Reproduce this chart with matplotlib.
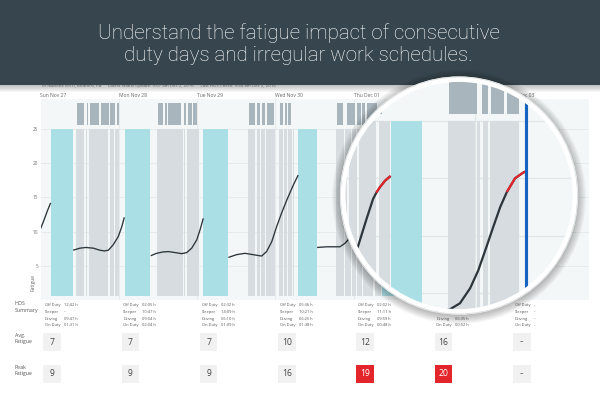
import numpy as np
import matplotlib
matplotlib.use("Agg")
import matplotlib.pyplot as plt
from matplotlib.patches import Rectangle, Circle
from matplotlib.transforms import blended_transform_factory

plt.rcParams["font.family"] = ["Open Sans", "DejaVu Sans"]

"Texts"
title = "Understand the fatigue impact of consecutive\nduty days and irregular work schedules."
status_line = ("Tri Nazione (EST), Bedford, PA      Latest Status Update: 9:07 am Dec 2, 2016"
               "      Last HOS Check: 9:44 am Dec 2, 2016")
days = ["Sun Nov 27", "Mon Nov 28", "Tue Nov 29", "Wed Nov 30",
        "Thu Dec 01", "Fri Dec 02", "Sat Dec 03"]
fatigue_ticks = [5, 10, 15, 20, 25]

"Timeline, hours since Sun 00:00"
sleeper = [(3.1, 10.0), (25.8, 33.7), (49.9, 57.6), (79.0, 84.8), (104.6, 110.3)]
work = [(10.9, 13.4), (13.95, 14.35), (14.8, 20.8), (21.3, 22.6), (22.9, 24.1),
        (35.7, 43.6), (44.0, 44.4), (44.8, 48.5),
        (63.7, 65.75), (66.3, 67.3), (67.6, 68.8), (69.1, 71.9),
        (73.1, 74.4), (74.7, 75.65), (75.95, 77.0), (77.3, 77.8),
        (90.6, 92.9), (93.4, 95.1), (95.5, 96.7), (97.0, 98.5), (98.85, 101.9), (102.4, 104.4),
        (115.1, 120.0), (120.4, 120.9), (121.4, 122.3), (122.8, 128.0)]
duty = [(11.2, 13.4), (14.15, 14.65), (15.2, 17.8), (18.5, 20.9), (21.3, 22.9), (23.4, 24.1),
        (36.0, 37.7), (38.2, 38.8), (39.2, 43.1), (44.0, 44.6), (45.1, 46.3), (46.7, 48.0),
        (64.0, 65.75), (66.3, 67.3), (67.8, 68.8), (69.3, 71.7), (73.4, 74.4), (74.9, 75.65),
        (75.95, 76.8),
        (90.8, 92.8), (93.85, 96.4), (97.1, 98.15), (98.6, 99.5), (100.2, 103.05),
        (115.3, 120.4), (121.2, 122.3), (122.9, 125.2), (125.9, 128.0)]
now_h = 129.3
red_level = 18.5

curve_h = [
    [0.0, 1.0, 2.0, 3.1],
    [10.0, 12.1, 13.95, 16.2, 18.2, 19.6, 20.8, 22.3, 23.85, 24.9, 25.7],
    [33.8, 35.6, 37.6, 39.2, 40.7, 43.3, 44.8, 46.35, 47.9, 48.9, 49.9],
    [57.6, 60.1, 62.7, 65.2, 67.8, 69.3, 70.9, 72.4, 73.9, 75.5, 77.5, 79.0],
    [84.8, 87.7, 91.8, 93.3, 94.3, 96.5, 98.6, 100.2, 101.4, 102.0, 102.6, 103.6, 104.6],
    [110.3, 112.0, 113.9, 115.4, 117.25, 119.1, 120.6, 122.1, 123.35, 124.6, 125.8,
     127.3, 128.8, 129.3],
]
curve_v = [
    [10.4, 11.6, 12.9, 14.2],
    [7.3, 7.6, 7.7, 7.6, 7.3, 7.2, 7.3, 8.1, 9.3, 10.7, 12.1],
    [6.5, 6.85, 7.05, 7.1, 7.0, 6.8, 6.95, 7.6, 8.8, 10.25, 11.95],
    [6.25, 6.65, 6.85, 6.65, 6.45, 7.1, 8.55, 10.75, 12.7, 14.6, 16.8, 18.25],
    [7.7, 7.8, 7.8, 8.3, 8.8, 11.3, 14.0, 16.45, 18.2, 18.75, 19.2, 19.8, 20.2],
    [7.6, 8.1, 8.45, 8.6, 9.13, 10.43, 12.0, 14.05, 15.8, 17.5, 18.8, 20.0, 20.5, 20.6],
]

"HOS summary"
hos_labels = ["Off Duty", "Sleeper", "Driving", "On Duty"]
hos_values = [
    ["12:42 h", "--", "09:47 h", "01:31 h"],
    ["02:05 h", "10:47 h", "09:04 h", "02:04 h"],
    ["02:32 h", "14:09 h", "06:10 h", "01:09 h"],
    ["05:36 h", "10:21 h", "06:25 h", "01:38 h"],
    ["02:02 h", "11:11 h", "09:59 h", "00:48 h"],
    ["00:41 h", "05:42 h", "06:35 h", "00:52 h"],
    ["--", "--", "--", "--"],
]
avg_fatigue = [7, 7, 7, 10, 12, 16, None]
peak_fatigue = [9, 9, 9, 16, 19, 20, None]
peak_alert = 19

BG = "#f4f7f7"
CYAN = "#abdfe6"
WORK = "#d6dcdf"
DUTY = "#a9b5bd"
INK = "#2b353b"
RED = "#e3262b"
BLUE = "#1565c0"


def box(x0, y0, x1, y1):
    # pixel box (top-left origin) -> figure fraction
    return [x0 / 600, 1 - y1 / 400, (x1 - x0) / 600, (y1 - y0) / 400]


def draw_chart(ax, lw, grid_lw):
    for t in fatigue_ticks:
        ax.axhline(t, color="#e2e7e8", lw=grid_lw, zorder=0)
    for d in range(1, 7):
        ax.axvline(d * 24, color="#e2e7e8", lw=grid_lw, zorder=0)
    for s, e in sleeper:
        ax.add_patch(Rectangle((s, 0.6), e - s, 24.4, fc=CYAN, ec="none", zorder=1))
    for s, e in work:
        ax.add_patch(Rectangle((s, 0.6), e - s, 24.4, fc=WORK, ec="none", zorder=1))
    for s, e in duty:
        ax.add_patch(Rectangle((s, 25.6), e - s, 3.1, fc=DUTY, ec="none", zorder=1))
    for h, v in zip(curve_h, curve_v):
        v = np.array(v)
        ax.plot(h, v, color=INK, lw=lw, zorder=3, solid_capstyle="butt")
        ax.plot(h, np.ma.masked_less(v, red_level), color=RED, lw=lw, zorder=4,
                solid_capstyle="butt")
    ax.axvline(now_h, ymin=0.02, ymax=0.985, color=BLUE, lw=lw * 1.4, zorder=5)


fig = plt.figure(figsize=(6, 4), dpi=100)
fig.patch.set_facecolor("white")

# main chart
ax = fig.add_axes(box(40.5, 99.3, 588.5, 300.3))
ax.set_facecolor(BG)
ax.set_xlim(0, 168)
ax.set_ylim(0, 29.3)
draw_chart(ax, 0.95, 0.5)
for sp in ax.spines.values():
    sp.set_visible(False)
ax.set_xticks([])
ax.set_yticks(fatigue_ticks)
ax.tick_params(axis="y", length=0, pad=1.5, labelsize=3.4, labelcolor="#777777")
ax.text(-0.013, 0.09, "Fatigue", transform=ax.transAxes, rotation=90,
        ha="center", va="center", fontsize=3.6, color="#666666")
top = blended_transform_factory(ax.transData, ax.transAxes)
for i, d in enumerate(days):
    ax.text(i * 24, 1.018, d, transform=top, ha="left", va="center",
            fontsize=3.6, color="#666666")

# HOS summary table
tab = fig.add_axes(box(40.5, 300.3, 588.5, 400))
tab.set_xlim(0, 7)
tab.set_ylim(400, 300.3)
tab.axis("off")
left_labels = [("HOS\nSummary", 301.5), ("Avg.\nFatigue", 333.0), ("Peak\nFatigue", 365.0)]
for txt, y in left_labels:
    tab.text(-0.326, y, txt, ha="left", va="top", fontsize=3.8, color="#555555",
             linespacing=1.3, clip_on=False)
for i in range(len(days)):
    for j, lab in enumerate(hos_labels):
        y = 305.0 + j * 6.8
        tab.text(i + 0.057, y, lab, ha="left", va="center", fontsize=2.9, color="#555555")
        tab.text(i + 0.30, y, hos_values[i][j], ha="left", va="center",
                 fontsize=2.9, color="#555555")
    for vals, y0 in [(avg_fatigue, 333.3), (peak_fatigue, 365.0)]:
        val = vals[i]
        alert = vals is peak_fatigue and val is not None and val >= peak_alert
        tab.add_patch(Rectangle((i + 0.036, y0), 0.2235, 17.7,
                                fc=RED if alert else "#f1f1f1", ec="none"))
        tab.text(i + 0.148, y0 + 8.9, "--" if val is None else str(val),
                 ha="center", va="center", fontsize=6.2 if val is not None else 5,
                 color="white" if alert else "#444444")

# overlay: header and magnifier shadow
ov = fig.add_axes([0, 0, 1, 1], zorder=2)
ov.set_xlim(0, 600)
ov.set_ylim(400, 0)
ov.axis("off")
ov.text(41, 86.3, status_line, ha="left", va="center", fontsize=3.2,
        color="#777777", zorder=1)
for k in range(7):
    ov.add_patch(Rectangle((0, 85), 600, 1.0 + k, fc="black", alpha=0.035, ec="none", zorder=2))
ov.add_patch(Rectangle((0, 0), 600, 85, fc="#37464e", ec="none", zorder=3))
ov.text(298.5, 44, title, ha="center", va="center", fontsize=14.8,
        family=["Roboto", "DejaVu Sans"], fontweight="light", color="white",
        linespacing=1.2, zorder=4)
for k in range(9):
    ov.add_patch(Circle((459, 197), 119 + k, fc="black", alpha=0.03, ec="none", zorder=5))

# magnifier
mg = fig.add_axes(box(340.5, 77, 577.5, 314), zorder=3)
mg.set_xlim(95.46, 138.7)
mg.set_ylim(8.2, 28.81)
mg.axis("off")
mg.add_patch(Circle((0.5, 0.5), 0.5, transform=mg.transAxes, fc=BG, ec="none", zorder=-1))
draw_chart(mg, 1.6, 0.9)
clip = Circle((0.5, 0.5), 0.5, transform=mg.transAxes)
for art in mg.lines + mg.patches:
    art.set_clip_path(clip)
mg.add_patch(Circle((0.5, 0.5), 0.491, transform=mg.transAxes, fill=False,
                    ec="white", lw=4.0, clip_on=False, zorder=10))
mg.add_patch(Circle((0.5, 0.5), 0.5, transform=mg.transAxes, fill=False,
                    ec="#d4d8da", lw=0.5, clip_on=False, zorder=11))

fig.savefig("out.png", dpi=100)
